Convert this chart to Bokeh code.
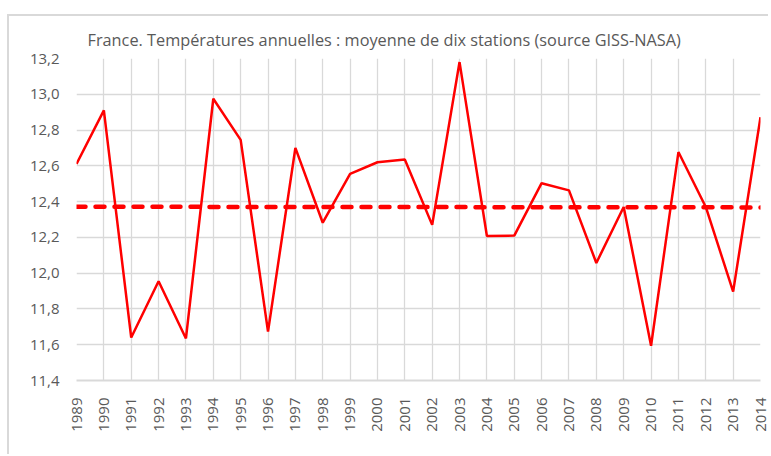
import numpy as np
from bokeh.plotting import figure
from bokeh.models import Range1d, FixedTicker
from bokeh.embed import file_html
from bokeh.resources import INLINE

title_text = "France. Températures annuelles : moyenne de dix stations (source GISS-NASA)"
years = list(range(1989, 2015))
temps = [12.61, 12.91, 11.64, 11.955, 11.635, 12.975, 12.745, 11.673, 12.70, 12.282,
         12.555, 12.62, 12.635, 12.27, 13.18, 12.208, 12.21, 12.503, 12.463, 12.057,
         12.37, 11.594, 12.677, 12.37, 11.897, 12.872]
y_ticks = [11.4, 11.6, 11.8, 12.0, 12.2, 12.4, 12.6, 12.8, 13.0, 13.2]
y_tick_labels = ["11,4", "11,6", "11,8", "12,0", "12,2", "12,4", "12,6", "12,8", "13,0", "13,2"]

slope, intercept = np.polyfit(years, temps, 1)
trend_x = [years[0], years[-1]]
trend_y = [slope * x + intercept for x in trend_x]

p = figure(width=761, height=440, output_backend="svg", toolbar_location=None,
           x_range=Range1d(1989, 2014), y_range=Range1d(11.4, 13.2),
           min_border_left=67, min_border_right=10, min_border_top=42, min_border_bottom=76)
p.outline_line_color = None
# chart-area border: left and top edges visible, as in the reference
p.styles = {"margin-left": "7px", "margin-top": "14px",
            "border-left": "2px solid #d9d9d9", "border-top": "2px solid #d9d9d9"}

p.title.text = title_text
p.title.align = "left"
p.title.offset = 11
p.title.text_font = "Open Sans"
p.title.text_font_size = "16.3px"
p.title.text_font_style = "normal"
p.title.text_color = "#595959"
p.title.standoff = 16

p.xaxis.ticker = FixedTicker(ticks=years)
p.xaxis.major_label_orientation = np.pi / 2
p.yaxis.ticker = FixedTicker(ticks=y_ticks)
p.yaxis.major_label_overrides = {t: l for t, l in zip(y_ticks, y_tick_labels)}

for ax in (p.xaxis, p.yaxis):
    ax.major_tick_line_color = None
    ax.minor_tick_line_color = None
    ax.major_label_text_font = "Open Sans"
    ax.major_label_text_font_size = "15px"
    ax.major_label_text_color = "#595959"
p.yaxis.axis_line_color = None
p.xaxis.axis_line_color = "#d9d9d9"
p.xaxis.axis_line_width = 2
p.xaxis.major_label_standoff = 11
p.yaxis.major_label_standoff = 11

p.xgrid.ticker = FixedTicker(ticks=years)
p.ygrid.ticker = FixedTicker(ticks=y_ticks)
p.grid.grid_line_color = "#d9d9d9"
p.grid.grid_line_width = 1.3

p.line(years, temps, line_color="#ff0000", line_width=2.5)
p.line(trend_x, trend_y, line_color="#ff0000", line_width=4.5, line_cap="round",
       line_dash="9 10")

open("out.html", "w").write(file_html(p, INLINE))
